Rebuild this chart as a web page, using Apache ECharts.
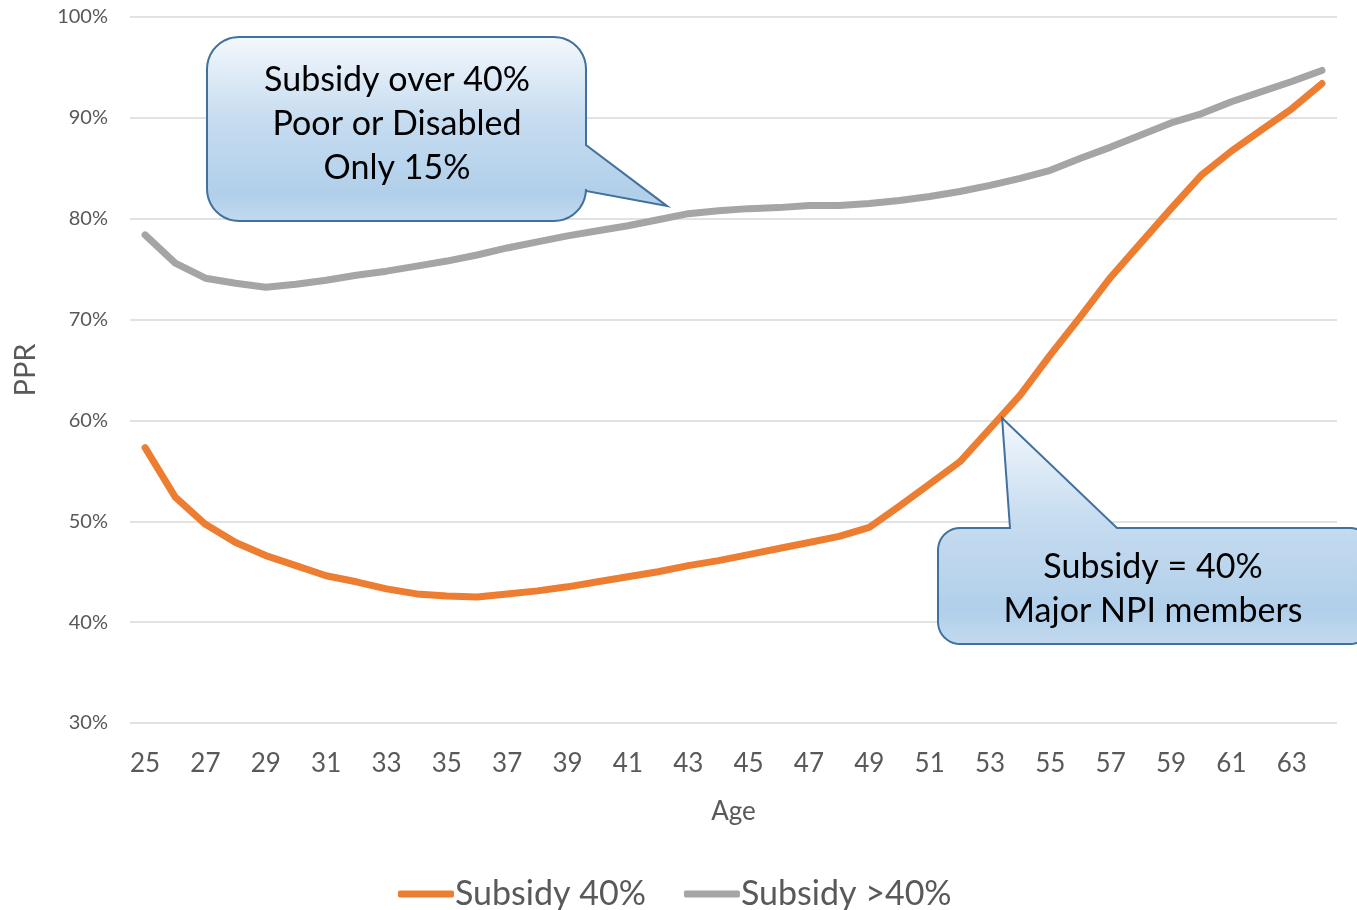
<!DOCTYPE html>
<html>
<head>
<meta charset="utf-8">
<script src="https://cdn.jsdelivr.net/npm/echarts@6/dist/echarts.min.js"></script>
<style>
  html, body { margin: 0; padding: 0; background: #fff; }
  #chart { width: 1357px; height: 910px; }
</style>
</head>
<body>
<div id="chart"></div>
<script>
// Ages 25..64
const ages = [];
for (let a = 25; a <= 64; a++) ages.push(String(a));

// PPR by age for members with a 40% subsidy
const subsidy40 = [
  0.573, 0.524, 0.497, 0.479, 0.466, 0.456, 0.446, 0.440, 0.433, 0.428,
  0.426, 0.425, 0.428, 0.431, 0.435, 0.440, 0.445, 0.450, 0.456, 0.461,
  0.467, 0.473, 0.479, 0.485, 0.494, 0.515, 0.537, 0.559, 0.592, 0.625,
  0.665, 0.703, 0.742, 0.776, 0.810, 0.843, 0.867, 0.888, 0.909, 0.934
];

// PPR by age for members with a subsidy above 40%
const subsidyOver40 = [
  0.784, 0.756, 0.741, 0.736, 0.732, 0.735, 0.739, 0.744, 0.748, 0.753,
  0.758, 0.764, 0.771, 0.777, 0.783, 0.788, 0.793, 0.799, 0.805, 0.808,
  0.810, 0.811, 0.813, 0.813, 0.815, 0.818, 0.822, 0.827, 0.833, 0.840,
  0.848, 0.860, 0.871, 0.883, 0.895, 0.904, 0.916, 0.926, 0.936, 0.947
];

const yTicks = [0.3, 0.4, 0.5, 0.6, 0.7, 0.8, 0.9, 1.0];
const seriesNames = ['Subsidy 40%', 'Subsidy >40%'];
const calloutTop = ['Subsidy over 40%', 'Poor or Disabled', 'Only 15%'];
const calloutBottom = ['Subsidy = 40%', 'Major NPI members'];

const FONT = 'Lato, "Open Sans", sans-serif';
const chart = echarts.init(document.getElementById('chart'));

chart.setOption({
  animation: false,
  backgroundColor: '#ffffff',
  grid: { left: 130, right: 20, top: 17, bottom: 187, containLabel: false },
  xAxis: {
    type: 'category',
    data: ages,
    boundaryGap: true,
    name: 'Age',
    nameLocation: 'middle',
    nameGap: 76,
    nameTextStyle: { color: '#595959', fontSize: 26, fontFamily: FONT },
    axisLine: { show: false },
    axisTick: { show: false },
    axisLabel: { interval: 1, color: '#595959', fontSize: 26, fontFamily: FONT, margin: 28 }
  },
  yAxis: {
    type: 'value',
    min: yTicks[0],
    max: yTicks[yTicks.length - 1],
    interval: 0.1,
    name: 'PPR',
    nameLocation: 'middle',
    nameGap: 90,
    nameRotate: 90,
    nameTextStyle: { color: '#595959', fontSize: 29, fontFamily: FONT },
    axisLine: { show: false },
    axisTick: { show: false },
    splitLine: { lineStyle: { color: '#d9d9d9', width: 1.5 } },
    axisLabel: {
      color: '#595959', fontSize: 20, fontFamily: FONT, margin: 22,
      formatter: v => Math.round(v * 100) + '%'
    }
  },
  legend: {
    bottom: -6,
    left: 393,
    itemWidth: 56,
    itemHeight: 7,
    itemGap: 38,
    icon: 'roundRect',
    textStyle: { color: '#595959', fontSize: 34, fontFamily: FONT, padding: [0, 0, 0, -4] },
    data: seriesNames
  },
  series: [
    {
      name: seriesNames[0], type: 'line', data: subsidy40,
      symbol: 'none', smooth: false,
      lineStyle: { color: '#ED7D31', width: 7, cap: 'round', join: 'round' },
      itemStyle: { color: '#ED7D31' }
    },
    {
      name: seriesNames[1], type: 'line', data: subsidyOver40,
      symbol: 'none', smooth: false,
      lineStyle: { color: '#A5A5A5', width: 7, cap: 'round', join: 'round' },
      itemStyle: { color: '#A5A5A5' }
    }
  ]
});

// pixel position of a fractional category index and a value
function toPixel(idx, val) {
  const i0 = Math.floor(idx), f = idx - i0;
  const p0 = chart.convertToPixel({ gridIndex: 0 }, [i0, val]);
  const p1 = chart.convertToPixel({ gridIndex: 0 }, [i0 + 1, val]);
  return [p0[0] + (p1[0] - p0[0]) * f, p0[1]];
}

// quarter-circle corner points
function corner(cx, cy, r, a0, a1, pts) {
  const n = 10;
  for (let i = 0; i <= n; i++) {
    const a = a0 + (a1 - a0) * i / n;
    pts.push([cx + r * Math.cos(a), cy + r * Math.sin(a)]);
  }
}
const PI = Math.PI;

// rounded box with a pointer leaving its right side
function rightCallout(x0, y0, x1, y1, r, pa, pb, tip) {
  const p = [];
  corner(x1 - r, y0 + r, r, -PI / 2, 0, p);
  p.push([x1, pa], tip, [x1, pb]);
  corner(x1 - r, y1 - r, r, 0, PI / 2, p);
  corner(x0 + r, y1 - r, r, PI / 2, PI, p);
  corner(x0 + r, y0 + r, r, PI, 1.5 * PI, p);
  return p;
}

// rounded box with a pointer leaving its top side
function topCallout(x0, y0, x1, y1, r, pa, pb, tip) {
  const p = [];
  p.push([pa, y0], tip, [pb, y0]);
  corner(x1 - r, y0 + r, r, -PI / 2, 0, p);
  corner(x1 - r, y1 - r, r, 0, PI / 2, p);
  corner(x0 + r, y1 - r, r, PI / 2, PI, p);
  corner(x0 + r, y0 + r, r, PI, 1.5 * PI, p);
  return p;
}

function fill() {
  return {
    type: 'linear', x: 0, y: 0, x2: 0, y2: 1,
    colorStops: [
      { offset: 0, color: '#f4f8fc' },
      { offset: 0.45, color: '#c6dcf0' },
      { offset: 0.85, color: '#b1cfea' },
      { offset: 1, color: '#c3daef' }
    ]
  };
}

const tipA = toPixel(17.3, 0.8125);
const tipB = toPixel(28.4, 0.6025);

const label = (x, y, t) => ({
  type: 'text', x: x, y: y, z: 101,
  style: { text: t, fill: '#000', font: '34px ' + FONT, align: 'center', verticalAlign: 'middle' }
});

chart.setOption({
  graphic: [
    {
      type: 'polygon', z: 100,
      shape: { points: rightCallout(207, 37, 586, 221, 32, 145, 191, tipA) },
      style: { fill: fill(), stroke: '#41719c', lineWidth: 2, lineJoin: 'miter' }
    },
    label(397, 80, calloutTop[0]),
    label(397, 124, calloutTop[1]),
    label(397, 168, calloutTop[2]),
    {
      type: 'polygon', z: 100,
      shape: { points: topCallout(938, 528, 1372, 644, 22, 1010, 1117, tipB) },
      style: { fill: fill(), stroke: '#41719c', lineWidth: 2, lineJoin: 'miter' }
    },
    label(1153, 567, calloutBottom[0]),
    label(1153, 611, calloutBottom[1])
  ]
});
</script>
</body>
</html>
